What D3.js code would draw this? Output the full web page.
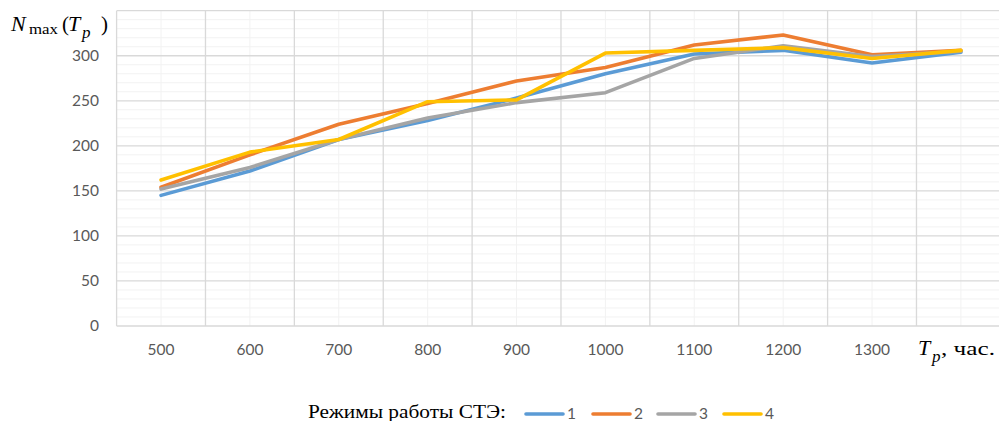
<!DOCTYPE html>
<html>
<head>
<meta charset="utf-8">
<script src="https://cdn.jsdelivr.net/npm/d3@7/dist/d3.min.js"></script>
<style>
  html, body { margin: 0; padding: 0; background: #fff; }
  svg { display: block; }
  .serif { font-family: "Liberation Serif", "Times New Roman", Times, "DejaVu Serif", serif; }
  .sans { font-family: Lato, "Open Sans", sans-serif; }
</style>
</head>
<body>
<svg id="chart" width="999" height="421"></svg>
<script>
// Operating hours T_p (the last category carries no tick label)
const categories = ["500", "600", "700", "800", "900", "1000", "1100", "1200", "1300", "1400"];
const tickLabels = ["500", "600", "700", "800", "900", "1000", "1100", "1200", "1300", ""];

// N_max(T_p) for each operating mode of the СТЭ
const mode1 = [145, 172, 207, 228, 253, 280, 302, 306, 292, 304];
const mode2 = [154, 190, 224, 247, 272, 287, 312, 323, 301, 306];
const mode3 = [152, 176, 207, 231, 248, 259, 297, 311, 299, 305];
const mode4 = [162, 193, 207, 249, 251, 303, 306, 309, 297, 306];

const seriesNames = ["1", "2", "3", "4"];
const seriesColors = ["#5B9BD5", "#ED7D31", "#A5A5A5", "#FFC000"];
const yTicks = [0, 50, 100, 150, 200, 250, 300];

const series = [mode1, mode2, mode3, mode4].map((v, i) => ({
  name: seriesNames[i], color: seriesColors[i], values: v
}));

const svg = d3.select("#chart");
const plotLeft = 116.6, bandW = 88.875, plotTop = 10.7, plotBottom = 326;

const x = d3.scaleBand().domain(categories)
  .range([plotLeft, plotLeft + bandW * categories.length]).padding(0);
const y = d3.scaleLinear().domain([0, 350]).range([plotBottom, plotTop]);
const cx = c => x(c) + x.bandwidth() / 2;

const grid = svg.append("g");
// minor horizontal lines every 10
grid.selectAll(".hmin").data(d3.range(10, 351, 10).filter(v => v % 50 !== 0))
  .enter().append("line")
  .attr("x1", plotLeft).attr("x2", 999)
  .attr("y1", d => y(d)).attr("y2", d => y(d))
  .attr("stroke", "#F2F2F2").attr("stroke-width", 1);
// minor vertical lines at category centres
grid.selectAll(".vmin").data(categories).enter().append("line")
  .attr("x1", d => cx(d)).attr("x2", d => cx(d))
  .attr("y1", plotTop).attr("y2", plotBottom)
  .attr("stroke", "#F2F2F2").attr("stroke-width", 1);
// major horizontal lines every 50
grid.selectAll(".hmaj").data(d3.range(0, 351, 50)).enter().append("line")
  .attr("x1", plotLeft).attr("x2", 999)
  .attr("y1", d => y(d)).attr("y2", d => y(d))
  .attr("stroke", "#D9D9D9").attr("stroke-width", 1.3);
// major vertical lines at category boundaries
grid.selectAll(".vmaj").data(categories).enter().append("line")
  .attr("x1", d => x(d)).attr("x2", d => x(d))
  .attr("y1", plotTop).attr("y2", plotBottom)
  .attr("stroke", "#D9D9D9").attr("stroke-width", 1.3);

// y tick labels
svg.append("g").selectAll("text").data(yTicks).enter().append("text")
  .attr("class", "sans")
  .attr("x", 99).attr("y", d => y(d)).attr("dy", "0.35em")
  .attr("text-anchor", "end").attr("font-size", 15.5)
  .attr("fill", "#595959").text(d => d);

// x tick labels
svg.append("g").selectAll("text").data(categories).enter().append("text")
  .attr("class", "sans")
  .attr("x", d => cx(d)).attr("y", 355)
  .attr("text-anchor", "middle").attr("font-size", 15.5)
  .attr("fill", "#595959").text((d, i) => tickLabels[i]);

// series lines
const line = d3.line().x((d, i) => cx(categories[i])).y(d => y(d));
svg.append("g").selectAll("path").data(series).enter().append("path")
  .attr("d", d => line(d.values))
  .attr("fill", "none").attr("stroke", d => d.color)
  .attr("stroke-width", 3.6).attr("stroke-linejoin", "round").attr("stroke-linecap", "round");

// y-axis title N_max(T_p)
const yt = svg.append("text").attr("class", "serif").attr("fill", "#000");
yt.append("tspan").attr("x", 11).attr("y", 31).attr("font-style", "italic").attr("font-size", 22).text("N");
yt.append("tspan").attr("x", 29).attr("y", 34).attr("font-size", 15).attr("textLength", 29).attr("lengthAdjust", "spacingAndGlyphs").text("max");
yt.append("tspan").attr("x", 62).attr("y", 31).attr("font-size", 21).text("(");
yt.append("tspan").attr("x", 68).attr("y", 31).attr("font-style", "italic").attr("font-size", 22).text("T");
yt.append("tspan").attr("x", 82).attr("y", 38).attr("font-style", "italic").attr("font-size", 17).text("p");
yt.append("tspan").attr("x", 101).attr("y", 31).attr("font-size", 21).text(")");

// x-axis title T_p, час.
const xt = svg.append("text").attr("class", "serif").attr("fill", "#000");
xt.append("tspan").attr("x", 918).attr("y", 355).attr("font-style", "italic").attr("font-size", 22).text("T");
xt.append("tspan").attr("x", 932).attr("y", 362).attr("font-style", "italic").attr("font-size", 17).text("p");
xt.append("tspan").attr("x", 941).attr("y", 355).attr("font-size", 18)
  .attr("textLength", 54).attr("lengthAdjust", "spacingAndGlyphs").text(", час.");

// legend
svg.append("text").attr("class", "serif").attr("x", 308).attr("y", 418)
  .attr("font-size", 18).attr("fill", "#000")
  .attr("textLength", 198).attr("lengthAdjust", "spacingAndGlyphs")
  .text("Режимы работы СТЭ:");
const legendX = [526, 593, 658, 724];
const lg = svg.append("g").selectAll("g").data(series).enter().append("g")
  .attr("transform", (d, i) => `translate(${legendX[i]},414)`);
lg.append("line").attr("x1", 0).attr("x2", 37).attr("y1", 0).attr("y2", 0)
  .attr("stroke", d => d.color).attr("stroke-width", 3.6).attr("stroke-linecap", "round");
lg.append("text").attr("class", "sans").attr("x", 41).attr("y", 0).attr("dy", "0.35em")
  .attr("font-size", 15.5)
  .attr("fill", "#595959").text(d => d.name);
</script>
</body>
</html>
